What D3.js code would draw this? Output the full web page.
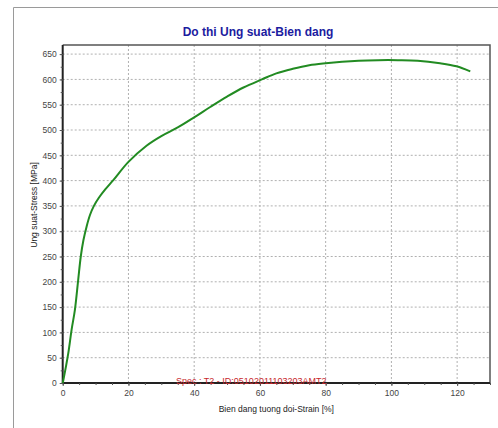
<!DOCTYPE html>
<html><head><meta charset="utf-8">
<script src="https://cdn.jsdelivr.net/npm/d3@7"></script>
<style>body{margin:0;background:#fff}svg{display:block}</style>
</head><body>
<svg id="c" width="498" height="428"></svg>
<script>
const title = "Do thi Ung suat-Bien dang";
const xLabel = "Bien dang tuong doi-Strain [%]";
const yLabel = "Ung suat-Stress [MPa]";
const specLabel = "Spec : T2 - ID:05102011103203AMT2";
const xTicks = [0, 20, 40, 60, 80, 100, 120];
const yTicks = [0, 50, 100, 150, 200, 250, 300, 350, 400, 450, 500, 550, 600, 650];
const strain = [0, 0.2, 1.7, 2.7, 3.7, 4.7, 5.5, 6.3, 7.3, 8.3, 9.5, 11, 13, 15.4, 20, 25.5, 30, 35, 40, 45, 50, 55, 60.6, 65, 70, 75, 80, 85, 90, 96, 102, 108, 114.8, 119.8, 124];
const stress = [0, 6, 59, 105, 144, 203, 250, 282, 310, 332, 350, 366, 383, 401, 437, 469, 488, 505, 525, 546, 566, 584, 600, 612, 621, 628, 632, 635, 637, 638, 638, 637, 632, 626, 616];

const svg = d3.select("#c");
const L = 62.7, R = 490, T = 45, B = 383;
const x = d3.scaleLinear().domain([0, 130]).range([L, R]);
const y = d3.scaleLinear().domain([0, 668]).range([B, T]);
const font = "'Liberation Sans', Arial, sans-serif";

// outer frame
svg.append("path").attr("d", `M13.5,428V7.5H498`).attr("fill","none").attr("stroke","#9a9a9a").attr("stroke-width",1);

// grid
svg.append("g").selectAll("line").data(xTicks.filter(d=>d>0)).join("line")
  .attr("x1",d=>x(d)).attr("x2",d=>x(d)).attr("y1",T).attr("y2",B)
  .attr("stroke","#b0b0b0").attr("stroke-dasharray","2,2");
svg.append("g").selectAll("line").data(yTicks.filter(d=>d>0)).join("line")
  .attr("y1",d=>y(d)).attr("y2",d=>y(d)).attr("x1",L).attr("x2",R)
  .attr("stroke","#b0b0b0").attr("stroke-dasharray","2,2");

// plot border top/right
svg.append("path").attr("d",`M${L},${T}H${R}V${B}`).attr("fill","none").attr("stroke","#555").attr("stroke-width",1.5);

// axes
const xAxis = d3.axisBottom(x).tickValues(xTicks).tickSize(3).tickPadding(4);
const gx = svg.append("g").attr("transform",`translate(0,${B})`).call(xAxis);
const xMinor = d3.axisBottom(x).tickValues(d3.range(0,131,5)).tickSize(2).tickFormat("");
svg.append("g").attr("transform",`translate(0,${B})`).call(xMinor).select(".domain").remove();
const yAxis = d3.axisLeft(y).tickValues(yTicks).tickSize(3).tickPadding(3);
const gy = svg.append("g").attr("transform",`translate(${L},0)`).call(yAxis);
const yMinor = d3.axisLeft(y).tickValues(d3.range(0,668,25)).tickSize(2).tickFormat("");
svg.append("g").attr("transform",`translate(${L},0)`).call(yMinor).select(".domain").remove();
svg.selectAll(".domain").attr("stroke","#222").attr("stroke-width",2);
svg.selectAll(".tick line").attr("stroke","#555");
svg.selectAll(".tick text").attr("font-family",font).attr("font-size","8.5px").attr("fill","#444");
gx.select(".domain").attr("d",`M${L},0H${R}`);
gy.select(".domain").attr("d",`M0,${T}V${B}`);

// curve
const pts = strain.map((s,i)=>[s, stress[i]]);
svg.append("path").datum(pts).attr("fill","none").attr("stroke","#228b22").attr("stroke-width",2)
  .attr("d", d3.line().x(d=>x(d[0])).y(d=>y(d[1])).curve(d3.curveCatmullRom.alpha(0.5)));

// spec label
svg.append("text").attr("x",176).attr("y",384).attr("font-family",font).attr("font-size","9px")
  .attr("fill","#c8282d").text(specLabel);

// title
svg.append("text").attr("x",258).attr("y",36).attr("text-anchor","middle").attr("font-family",font)
  .attr("font-size","12px").attr("font-weight","bold").attr("fill","#1c1ca0").text(title);

// axis labels
svg.append("text").attr("x",(L+R)/2).attr("y",412).attr("text-anchor","middle").attr("font-family",font)
  .attr("font-size","8.5px").attr("fill","#222").text(xLabel);
svg.append("text").attr("transform","translate(37,205) rotate(-90)").attr("text-anchor","middle").attr("font-family",font)
  .attr("font-size","8.5px").attr("fill","#222").text(yLabel);
</script>
</body></html>
